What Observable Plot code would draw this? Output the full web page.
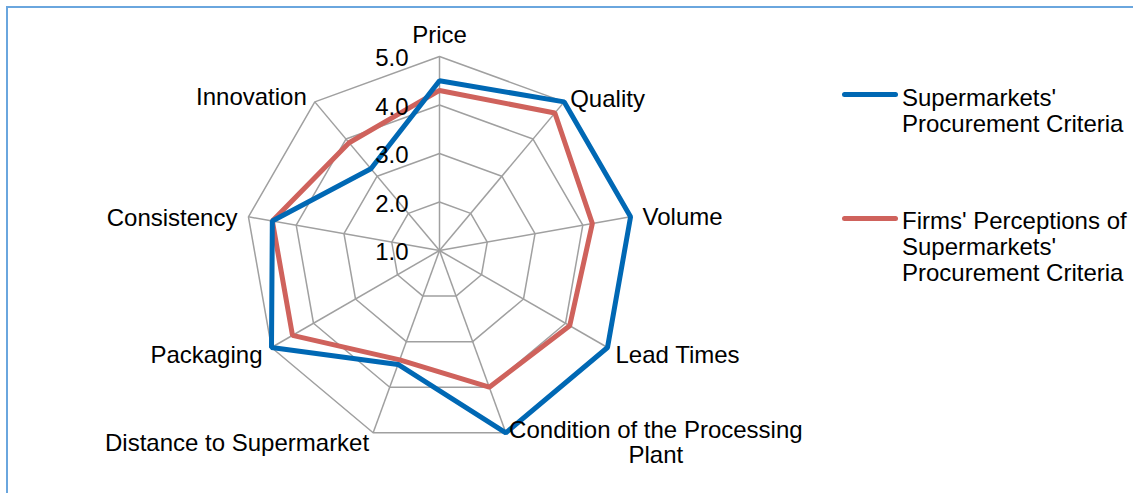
<!DOCTYPE html>
<html>
<head>
<meta charset="utf-8">
<script src="https://cdn.jsdelivr.net/npm/d3@7"></script>
<script src="https://cdn.jsdelivr.net/npm/@observablehq/plot@0.6"></script>
<style>
  html, body { margin: 0; padding: 0; background: #fff; overflow: hidden; }
  #wrap { position: relative; width: 1133px; height: 493px; font-family: "Liberation Sans", Arial, sans-serif; }
  #frame { position: absolute; left: 6px; top: 6px; right: -4px; bottom: -4px; border-top: 2px solid #6aa6de; border-left: 2px solid #6aa6de; pointer-events: none; }
  #chart { position: absolute; left: 0; top: 0; }
  .legend { position: absolute; left: 842px; font-size: 24px; line-height: 26px; color: #000; }
  .legend .sw { position: absolute; left: 0; width: 56px; height: 5px; border-radius: 3px; }
  .legend .tx { position: absolute; left: 60px; white-space: nowrap; }
</style>
</head>
<body>
<div id="wrap">
  <div id="chart"></div>
  <div id="legend"></div>
  <div id="frame"></div>
</div>
<script>
// ---- data ----
const categories = ["Price", "Quality", "Volume", "Lead Times", "Condition of the Processing Plant",
  "Distance to Supermarket", "Packaging", "Consistency", "Innovation"];
const seriesNames = ["Supermarkets' Procurement Criteria", "Firms' Perceptions of Supermarkets' Procurement Criteria"];
const supermarkets = [4.5, 5.0, 5.0, 5.0, 5.0, 3.5, 5.0, 4.5, 3.2];
const firms = [4.3, 4.7, 4.2, 4.1, 4.0, 3.4, 4.5, 4.5, 3.9];
const tickValues = [1, 2, 3, 4, 5];
const tickLabels = ["1.0", "2.0", "3.0", "4.0", "5.0"];
const seriesColors = ["#0068b4", "#cf625c"];
const rMin = 1, rMax = 5;

// ---- derived polar table ----
const n = categories.length;
const angle = i => (i * 2 * Math.PI) / n;
const px = (i, v) => (v - rMin) * Math.sin(angle(i));
const py = (i, v) => (v - rMin) * Math.cos(angle(i));

const seriesData = [];
[supermarkets, firms].forEach((vals, s) => {
  vals.forEach((v, i) => seriesData.push({series: seriesNames[s], category: categories[i], value: v, x: px(i, v), y: py(i, v)}));
});
const rings = [];
tickValues.filter(t => t > rMin).forEach(t => categories.forEach((c, i) => rings.push({ring: t, x: px(i, t), y: py(i, t)})));
const spokes = categories.map((c, i) => ({category: c, i, x: px(i, rMax), y: py(i, rMax)}));
const ticks = tickValues.map((t, k) => ({label: tickLabels[k], y: t - rMin}));

const font = {fontSize: 24, fill: "#000"};
const lab = names => spokes.filter(d => names.includes(d.category));

const chart = Plot.plot({
  width: 1133,
  height: 493,
  marginLeft: 245,
  marginRight: 500,
  marginTop: 56,
  marginBottom: 49,
  style: {fontFamily: "'Liberation Sans', Arial, sans-serif", background: "transparent", overflow: "visible"},
  x: {domain: [-(rMax - rMin), rMax - rMin], axis: null},
  y: {domain: [-(rMax - rMin), rMax - rMin], axis: null},
  color: {domain: seriesNames, range: seriesColors},
  marks: [
    Plot.link(spokes, {x1: 0, y1: 0, x2: "x", y2: "y", stroke: "#a0a0a0", strokeWidth: 1.5}),
    Plot.line(rings, {x: "x", y: "y", z: "ring", curve: "linear-closed", stroke: "#a0a0a0", strokeWidth: 1.5}),
    Plot.line(seriesData.filter(d => d.series === seriesNames[1]), {x: "x", y: "y", stroke: "series", curve: "linear-closed", strokeWidth: 5, strokeLinejoin: "miter"}),
    Plot.line(seriesData.filter(d => d.series === seriesNames[0]), {x: "x", y: "y", stroke: "series", curve: "linear-closed", strokeWidth: 5, strokeLinejoin: "miter"}),
    Plot.text(ticks, {x: 0, y: "y", text: "label", textAnchor: "end", dx: -31, dy: 2, ...font}),
    // category labels
    Plot.text(lab(["Price"]), {x: "x", y: "y", text: "category", textAnchor: "middle", dy: -21, ...font}),
    Plot.text(lab(["Quality"]), {x: "x", y: "y", text: "category", textAnchor: "start", dx: 6, dy: -3, ...font}),
    Plot.text(lab(["Volume"]), {x: "x", y: "y", text: "category", textAnchor: "start", dx: 12, dy: 1, ...font}),
    Plot.text(lab(["Lead Times"]), {x: "x", y: "y", text: "category", textAnchor: "start", dx: 8, dy: 8, ...font}),
    Plot.text(lab(["Condition of the Processing Plant"]), {x: "x", y: "y", text: d => d.category.replace(/ (\S+)$/, "\n$1"), textAnchor: "middle", lineHeight: 1.05, dx: 150, dy: 10, ...font}),
    Plot.text(lab(["Distance to Supermarket"]), {x: "x", y: "y", text: "category", textAnchor: "end", dx: -4, dy: 11, ...font}),
    Plot.text(lab(["Packaging"]), {x: "x", y: "y", text: "category", textAnchor: "end", dx: -9, dy: 8, ...font}),
    Plot.text(lab(["Consistency"]), {x: "x", y: "y", text: "category", textAnchor: "end", dx: -11, dy: 2, ...font}),
    Plot.text(lab(["Innovation"]), {x: "x", y: "y", text: "category", textAnchor: "end", dx: -8, dy: -5, ...font})
  ]
});
document.getElementById("chart").appendChild(chart);

// ---- legend (HTML, right side) ----
const legendLayout = [
  {lines: ["Supermarkets'", "Procurement Criteria"], swatchTop: 92, textTop: 85},
  {lines: ["Firms' Perceptions of", "Supermarkets'", "Procurement Criteria"], swatchTop: 216, textTop: 208}
];
const legend = document.getElementById("legend");
seriesNames.forEach((name, k) => {
  const L = legendLayout[k];
  const item = document.createElement("div");
  item.className = "legend";
  item.style.top = "0px";
  const sw = document.createElement("div");
  sw.className = "sw";
  sw.style.top = L.swatchTop + "px";
  sw.style.background = seriesColors[k];
  const tx = document.createElement("div");
  tx.className = "tx";
  tx.style.top = L.textTop + "px";
  tx.innerHTML = L.lines.join("<br>");
  tx.title = name;
  item.appendChild(sw);
  item.appendChild(tx);
  legend.appendChild(item);
});
</script>
</body>
</html>
